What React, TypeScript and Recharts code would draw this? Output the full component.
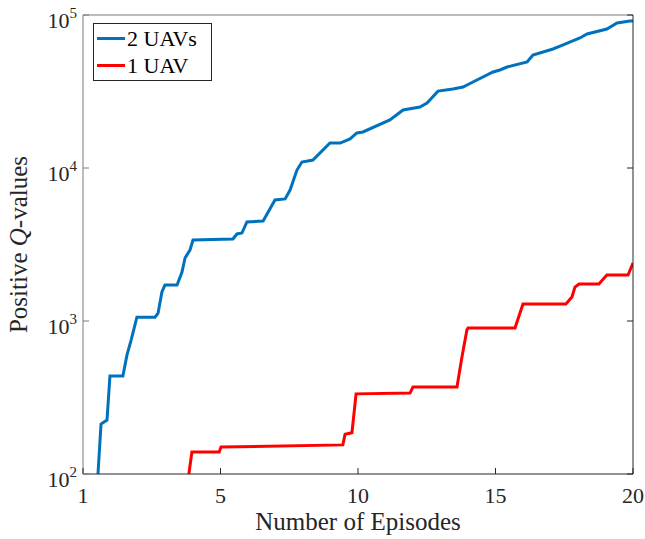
import { LineChart, Line, XAxis, YAxis, Label } from "recharts";

const FONT = '"Liberation Serif", "Times New Roman", serif';
const BLUE = "#0072BD";
const RED = "#FF0000";
const DARK = "#262626";
const GREY = "#7a7a7a";

// x axis runs 0..20, MATLAB-style first label reads "1"
const xTicks = [0, 5, 10, 15, 20];
const xTickLabels = ["1", "5", "10", "15", "20"];
const yTicks = [100, 1000, 10000, 100000];
const yExp = ["2", "3", "4", "5"];

const twoUavX = [
  0.545, 0.655, 0.873, 0.98, 1.45, 1.6, 1.75, 1.96, 2.62, 2.73, 2.87, 2.98, 3.42, 3.6, 3.71, 3.89, 4.0,
  5.45, 5.6, 5.78, 5.96, 6.55, 6.98, 7.35, 7.53, 7.78, 7.96, 8.36, 8.98, 9.35, 9.71, 9.96, 10.18,
  11.16, 11.64, 12.25, 12.51, 12.91, 13.45, 13.82, 14.18, 14.91, 15.16, 15.42, 16.15, 16.36, 17.09,
  17.35, 18.07, 18.33, 19.05, 19.42, 19.89, 20,
];
const twoUavY = [
  100, 212, 225, 437, 437, 600, 751, 1059, 1059, 1127, 1549, 1718, 1718, 2089, 2582, 2911, 3383,
  3436, 3706, 3758, 4436, 4505, 6180, 6280, 7180, 9700, 10940, 11270, 14560, 14560, 15480, 16940, 17200,
  20600, 23940, 25060, 26600, 31800, 32800, 33840, 36500, 42400, 43700, 45700, 49300, 54800, 59950,
  62700, 70800, 75100, 81000, 88700, 91400, 91400,
];

const oneUavX = [
  3.85, 3.96, 4.95, 5.02, 9.45, 9.53, 9.78, 9.93, 11.89, 12.0, 13.6, 13.78, 13.96, 14.0, 15.71, 15.89,
  16.0, 17.56, 17.78, 17.89, 18.04, 18.76, 19.05, 19.82, 20,
];
const oneUavY = [
  100, 139, 139, 150, 155, 182, 186, 334, 338, 371, 371, 582, 873, 900, 900, 1127,
  1291, 1291, 1436, 1667, 1746, 1746, 1995, 1995, 2393,
];

const SERIES = [
  { name: "2 UAVs", color: BLUE, data: twoUavX.map((x, i) => ({ x, v: twoUavY[i] })) },
  { name: "1 UAV", color: RED, data: oneUavX.map((x, i) => ({ x, v: oneUavY[i] })) },
];

function BottomTick({ x, y, payload }: any) {
  const i = xTicks.indexOf(payload.value);
  return (
    <g>
      <line x1={x} y1={y} x2={x} y2={y - 6} stroke={DARK} />
      <text x={x} y={y + 29} textAnchor="middle" fontSize={22} fontFamily={FONT} fill={DARK}>
        {xTickLabels[i]}
      </text>
    </g>
  );
}

function TopTick({ x, y }: any) {
  return <line x1={x} y1={y} x2={x} y2={y + 6} stroke={GREY} />;
}

function LeftTick({ x, y, payload }: any) {
  const i = yTicks.indexOf(payload.value);
  return (
    <g>
      <line x1={x} y1={y} x2={x + 6} y2={y} stroke={GREY} />
      <text x={x - 6} y={y + 13} textAnchor="end" fontSize={22} fontFamily={FONT} fill={DARK}>
        10
        <tspan dy={-10} fontSize={15}>
          {yExp[i]}
        </tspan>
      </text>
    </g>
  );
}

function RightTick({ x, y }: any) {
  return <line x1={x} y1={y} x2={x - 6} y2={y} stroke={DARK} />;
}

function YTitle(props: any) {
  const vb = props.viewBox || { x: 23, y: 15, width: 60, height: 459 };
  const cx = vb.x + 4;
  const cy = vb.y + vb.height / 2;
  return (
    <text
      transform={`translate(${cx},${cy}) rotate(-90)`}
      textAnchor="middle"
      fontSize={25}
      fontFamily={FONT}
      fill={DARK}
    >
      Positive <tspan fontStyle="italic">Q</tspan>-values
    </text>
  );
}

function XTitle(props: any) {
  const vb = props.viewBox || { x: 83, y: 474, width: 550, height: 40 };
  return (
    <text x={vb.x + vb.width / 2} y={vb.y + 56} textAnchor="middle" fontSize={25} fontFamily={FONT} fill={DARK}>
      Number of Episodes
    </text>
  );
}

function LegendBox() {
  return (
    <div
      style={{
        position: "absolute",
        left: 93,
        top: 23,
        width: 114,
        border: `1px solid ${DARK}`,
        background: "#fff",
        padding: "1px 0 1px 3px",
        fontFamily: FONT,
        fontSize: 22,
        lineHeight: "27px",
        color: "#000",
      }}
    >
      {SERIES.map((s) => (
        <div key={s.name} style={{ display: "flex", alignItems: "center", whiteSpace: "nowrap" }}>
          <span style={{ display: "inline-block", width: 28, height: 3, background: s.color, marginRight: 2 }} />
          {s.name}
        </div>
      ))}
    </div>
  );
}

export default function App() {
  return (
    <div style={{ position: "absolute", left: 0, top: 0, width: 645, height: 539, background: "#fff" }}>
      <LineChart width={645} height={539} margin={{ top: 13, right: 10, bottom: 25, left: 23 }}>
        <XAxis
          dataKey="x"
          type="number"
          domain={[0, 20]}
          ticks={xTicks}
          tickSize={0}
          tickMargin={0}
          tickLine={false}
          axisLine={{ stroke: DARK }}
          tick={<BottomTick />}
          height={40}
          allowDataOverflow
        >
          <Label content={<XTitle />} />
        </XAxis>
        <XAxis
          xAxisId="top"
          orientation="top"
          dataKey="x"
          type="number"
          domain={[0, 20]}
          ticks={xTicks}
          tickSize={0}
          tickMargin={0}
          tickLine={false}
          axisLine={{ stroke: GREY }}
          tick={<TopTick />}
          height={2}
        />
        <YAxis
          scale="log"
          type="number"
          domain={[100, 100000]}
          ticks={yTicks}
          tickSize={0}
          tickMargin={0}
          tickLine={false}
          axisLine={{ stroke: GREY }}
          tick={<LeftTick />}
          width={60}
          allowDataOverflow
        >
          <Label content={<YTitle />} />
        </YAxis>
        <YAxis
          yAxisId="right"
          orientation="right"
          scale="log"
          type="number"
          domain={[100, 100000]}
          ticks={yTicks}
          tickSize={0}
          tickMargin={0}
          tickLine={false}
          axisLine={{ stroke: DARK }}
          tick={<RightTick />}
          width={2}
          allowDataOverflow
        />
        {SERIES.map((s) => (
          <Line
            key={s.name}
            data={s.data}
            dataKey="v"
            name={s.name}
            type="linear"
            stroke={s.color}
            strokeWidth={3}
            dot={false}
            activeDot={false}
            isAnimationActive={false}
          />
        ))}
      </LineChart>
      <LegendBox />
    </div>
  );
}
